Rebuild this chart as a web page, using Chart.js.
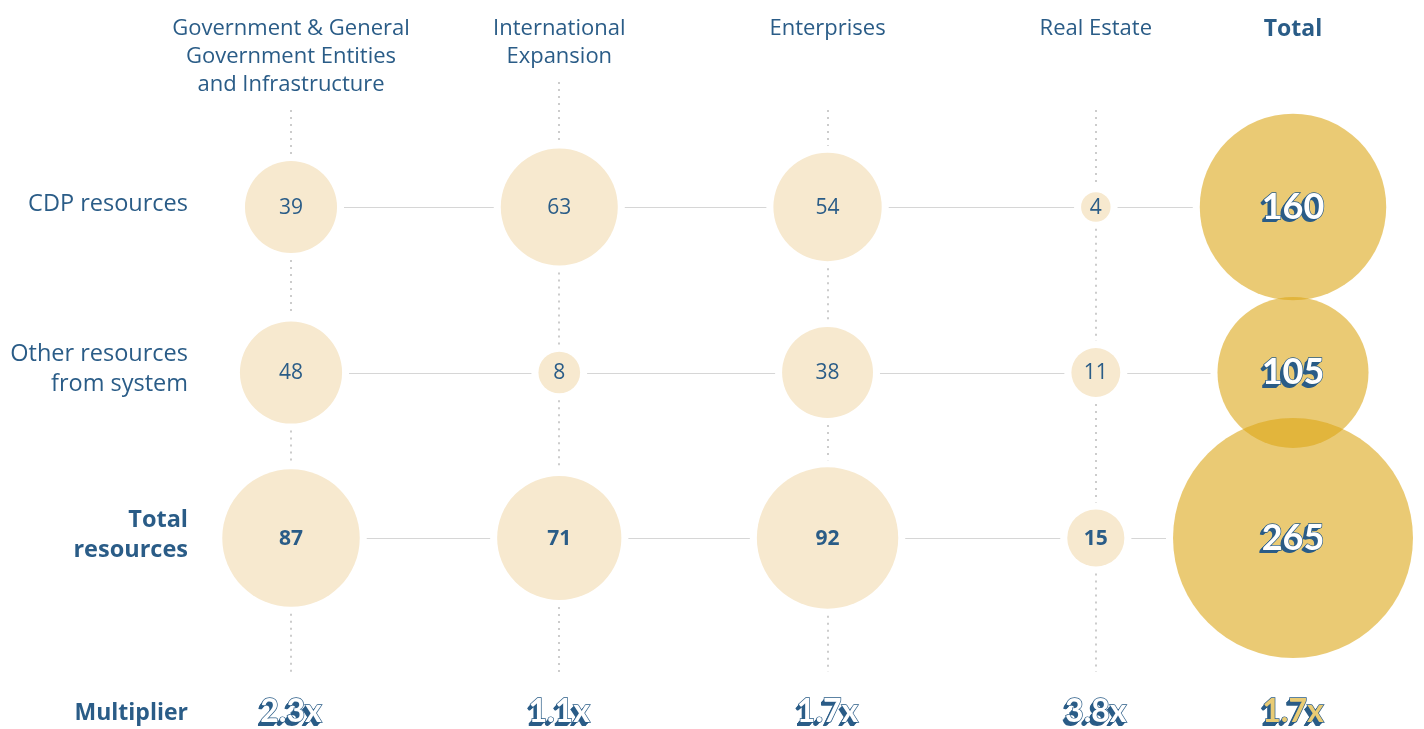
<!DOCTYPE html>
<html>
<head>
<meta charset="utf-8">
<script src="https://cdn.jsdelivr.net/npm/chart.js@4/dist/chart.umd.min.js"></script>
<style>
  body { margin: 0; background: #fff; }
  #wrap { width: 1424px; height: 729px; position: relative; }
</style>
</head>
<body>
<div id="wrap"><canvas id="myChart"></canvas></div>
<script>
// column headers and row labels
var columns = [
    ['Government & General', 'Government Entities', 'and Infrastructure'],
    ['International', 'Expansion'],
    ['Enterprises'],
    ['Real Estate'],
    ['Total']
];
var rows = [
    ['CDP resources'],
    ['Other resources', 'from system'],
    ['Total', 'resources']
];
// values per column (last one is the total)
var cdpResources = [39, 63, 54, 4, 160];
var otherResources = [48, 8, 38, 11, 105];
var totalResources = [87, 71, 92, 15, 265];
var multipliers = ['2.3x', '1.1x', '1.7x', '3.8x', '1.7x'];
var multiplierLabel = 'Multiplier';

var BLUE = '#2a5c87';
var LIGHT = '#f7e9cf';
var GOLD = 'rgba(220, 166, 24, 0.6)';
var FONT = '"Open Sans", "Noto Sans", sans-serif';
var totalGap = 0.735;   // total column sits closer than the others
var rScale = 7.37;      // bubble area ~ value

function colX(c) { return c < 4 ? c : 3 + totalGap; }

var values = [cdpResources, otherResources, totalResources];
var segPoints = [], totPoints = [];
values.forEach(function (arr, r) {
    arr.forEach(function (v, c) {
        var p = { x: colX(c), y: r, r: rScale * Math.sqrt(v), v: v, row: r, col: c };
        if (c < 4) segPoints.push(p); else totPoints.push(p);
    });
});

function fancy(ctx, text, x, y, size, face) {
    ctx.save();
    ctx.font = '700 ' + size + 'px Lato, "DejaVu Sans", sans-serif';
    ctx.textAlign = 'center';
    ctx.textBaseline = 'middle';
    ctx.fillStyle = BLUE;
    for (var d = 1; d <= 4; d++) ctx.fillText(text, x - d * 0.9, y + d * 0.9);
    ctx.lineWidth = 1.4;
    ctx.strokeStyle = BLUE;
    ctx.strokeText(text, x, y);
    ctx.fillStyle = face;
    ctx.fillText(text, x, y);
    ctx.restore();
}

var decor = {
    id: 'decor',
    beforeDatasetsDraw: function (chart) {
        var ctx = chart.ctx;
        var pts = {};
        [0, 1].forEach(function (di) {
            chart.getDatasetMeta(di).data.forEach(function (el, i) {
                var raw = chart.data.datasets[di].data[i];
                pts[raw.row + '_' + raw.col] = { x: el.x, y: el.y, r: raw.r };
            });
        });
        var gap = 7;
        ctx.save();
        // horizontal connectors
        ctx.strokeStyle = '#d6d6d6';
        ctx.lineWidth = 1;
        for (var r = 0; r < rows.length; r++) {
            for (var c = 0; c < 4; c++) {
                var a = pts[r + '_' + c], b = pts[r + '_' + (c + 1)];
                ctx.beginPath();
                ctx.moveTo(a.x + a.r + gap, Math.round(a.y) + 0.5);
                ctx.lineTo(b.x - b.r - gap, Math.round(a.y) + 0.5);
                ctx.stroke();
            }
        }
        // dotted verticals
        ctx.strokeStyle = '#cccccc';
        ctx.lineWidth = 2;
        ctx.setLineDash([2, 5]);
        for (var c = 0; c < 4; c++) {
            var top = columns[c].length === 2 ? 82 : 110;
            var bottom = 672;
            var ys = [top];
            for (var r = 0; r < rows.length; r++) {
                var p = pts[r + '_' + c];
                ys.push(p.y - p.r - gap, p.y + p.r + gap);
            }
            ys.push(bottom);
            var x = Math.round(pts['0_' + c].x);
            for (var k = 0; k < ys.length; k += 2) {
                if (ys[k + 1] <= ys[k]) continue;
                ctx.beginPath();
                ctx.moveTo(x, ys[k]);
                ctx.lineTo(x, ys[k + 1]);
                ctx.stroke();
            }
        }
        ctx.restore();
    },
    afterDatasetsDraw: function (chart) {
        var ctx = chart.ctx;
        ctx.save();
        ctx.textAlign = 'center';
        ctx.textBaseline = 'middle';
        chart.getDatasetMeta(0).data.forEach(function (el, i) {
            var raw = chart.data.datasets[0].data[i];
            ctx.font = (raw.row === 2 ? '700 ' : '400 ') + '21px ' + FONT;
            ctx.fillStyle = BLUE;
            ctx.fillText(String(raw.v), el.x, el.y + 1);
        });
        chart.getDatasetMeta(1).data.forEach(function (el, i) {
            var raw = chart.data.datasets[1].data[i];
            fancy(ctx, String(raw.v), el.x, el.y, 36, '#ffffff');
        });
        ctx.restore();
    },
    afterDraw: function (chart) {
        var ctx = chart.ctx;
        var xs = chart.scales.x, ys = chart.scales.y;
        ctx.save();
        ctx.fillStyle = BLUE;
        ctx.textBaseline = 'middle';
        // column headers
        ctx.textAlign = 'center';
        columns.forEach(function (lines, c) {
            var x = xs.getPixelForValue(colX(c));
            var last = c === columns.length - 1;
            ctx.font = (last ? '700 23px ' : '400 22px ') + FONT;
            lines.forEach(function (t, j) {
                ctx.fillText(t, x, 29 + j * 28);
            });
        });
        // row labels
        ctx.textAlign = 'right';
        rows.forEach(function (lines, r) {
            var y = ys.getPixelForValue(r);
            ctx.font = (r === 2 ? '700 ' : '400 ') + '23.5px ' + FONT;
            var y0 = y - (lines.length - 1) * 15 - 3;
            lines.forEach(function (t, j) {
                ctx.fillText(t, 188, y0 + j * 30);
            });
        });
        // multiplier row
        ctx.font = '700 23px ' + FONT;
        ctx.fillText(multiplierLabel, 188, 713);
        multipliers.forEach(function (m, c) {
            var x = xs.getPixelForValue(colX(c));
            fancy(ctx, m, x, 712, 32, c === 4 ? '#e9cb74' : '#ffffff');
        });
        ctx.restore();
    }
};

var ctx = document.getElementById('myChart');
var myChart = new Chart(ctx, {
    type: 'bubble',
    data: {
        datasets: [{
            label: 'Segments',
            data: segPoints,
            backgroundColor: LIGHT,
            borderWidth: 0,
            clip: false
        }, {
            label: 'Total',
            data: totPoints,
            backgroundColor: GOLD,
            borderWidth: 0,
            clip: false
        }]
    },
    options: {
        responsive: true,
        maintainAspectRatio: false,
        animation: false,
        layout: { padding: { left: 291, right: 131, top: 207, bottom: 191 } },
        scales: {
            x: { type: 'linear', display: false, min: 0, max: 3 + totalGap },
            y: { type: 'linear', display: false, min: 0, max: 2, reverse: true }
        },
        plugins: {
            legend: { display: false },
            tooltip: { enabled: false }
        },
        elements: { point: { hoverRadius: 0 } }
    },
    plugins: [decor]
});
</script>
</body>
</html>
